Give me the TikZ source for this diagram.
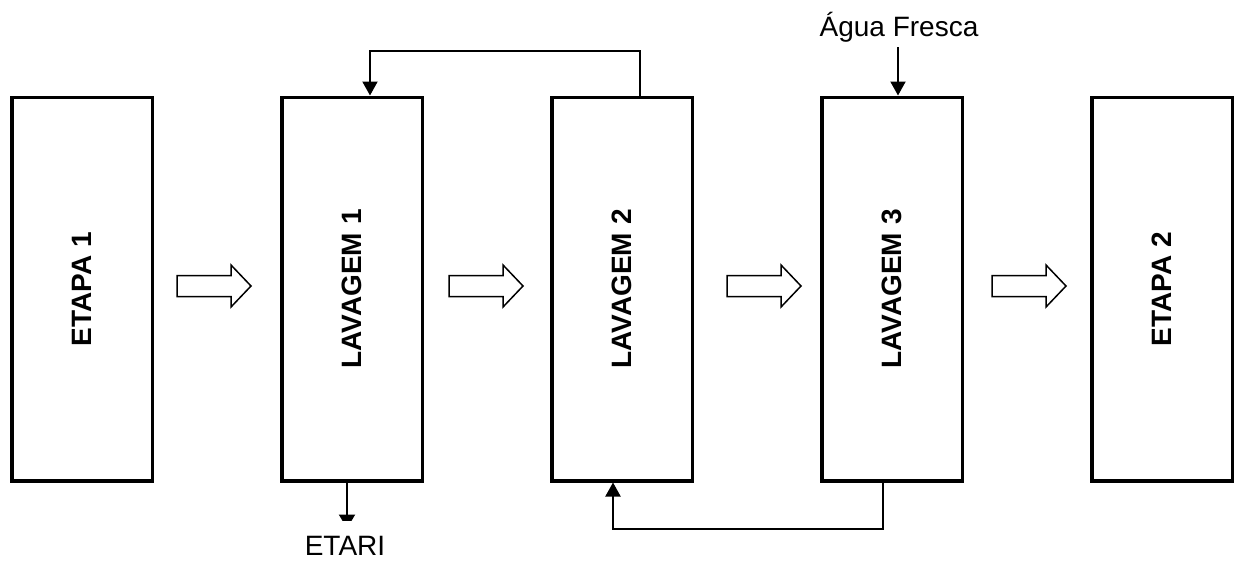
\documentclass[tikz,border=0pt]{standalone}
\usepackage{fontspec}
\setmainfont{Liberation Sans}
\usetikzlibrary{arrows.meta}
\tikzset{
  box/.style={draw, line width=3.5pt, rectangle, minimum width=140.5pt, minimum height=383.5pt, inner sep=0pt},
  boxlabel/.style={rotate=90, font=\fontsize{28}{34}\selectfont\bfseries},
  lbl/.style={font=\fontsize{28}{34}\selectfont, inner sep=0pt},
  conn/.style={line width=2pt},
  tip/.style={-{Triangle[width=15pt,length=14pt]}},
  hollowarrow/.pic={
    \draw[line width=1.5pt, fill=white] (0,-10.5) -- (54,-10.5) -- (54,-21) -- (74,0) -- (54,21) -- (54,10.5) -- (0,10.5) -- cycle;
  }
}
\begin{document}
\begin{tikzpicture}[x=1pt,y=-1pt]
\useasboundingbox (0,0) rectangle (1234,562);
\node[box] (et1) at (82,289) {};
\node[boxlabel] at (et1.center) {ETAPA 1};
\node[box] (lav1) at (352,289) {};
\node[boxlabel] at (lav1.center) {LAVAGEM 1};
\node[box] (lav2) at (622,289) {};
\node[boxlabel] at (lav2.center) {LAVAGEM 2};
\node[box] (lav3) at (892,289) {};
\node[boxlabel] at (lav3.center) {LAVAGEM 3};
\node[box] (et2) at (1162,289) {};
\node[boxlabel] at (et2.center) {ETAPA 2};

\pic at (177,286) {hollowarrow};
\pic at (449,286) {hollowarrow};
\pic at (727,286) {hollowarrow};
\pic at (992,286) {hollowarrow};

% top recycle
\coordinate (topy) at (0,51);
\coordinate (t2) at ([xshift=18pt]lav2.north);
\coordinate (t1) at ([xshift=18pt]lav1.north);
\draw[conn, tip] (t2) -- (t2 |- topy) -| (t1);

% bottom recycle
\coordinate (boty) at (0,529);
\coordinate (b3) at ([xshift=-9pt]lav3.south);
\coordinate (b2) at ([xshift=-9pt]lav2.south);
\draw[conn, tip] (b3) -- (b3 |- boty) -| (b2);

% fresh water
\node[lbl] (agua) at (899,27) {Água Fresca};
\coordinate (a3) at ([xshift=6pt]lav3.north);
\draw[conn, tip] (a3 |- 0,47) -- (a3);

% ETARI
\coordinate (e1) at ([xshift=-5pt]lav1.south);
\coordinate (e1end) at ([yshift=-46pt]e1);
\begin{scope}
\clip (0,0) rectangle (1234,520.5);
\draw[conn, -{Triangle[width=16pt,length=14pt]}] (e1) -- (e1end);
\end{scope}
\node[lbl] (etari) at (345,546) {ETARI};
\end{tikzpicture}
\end{document}
